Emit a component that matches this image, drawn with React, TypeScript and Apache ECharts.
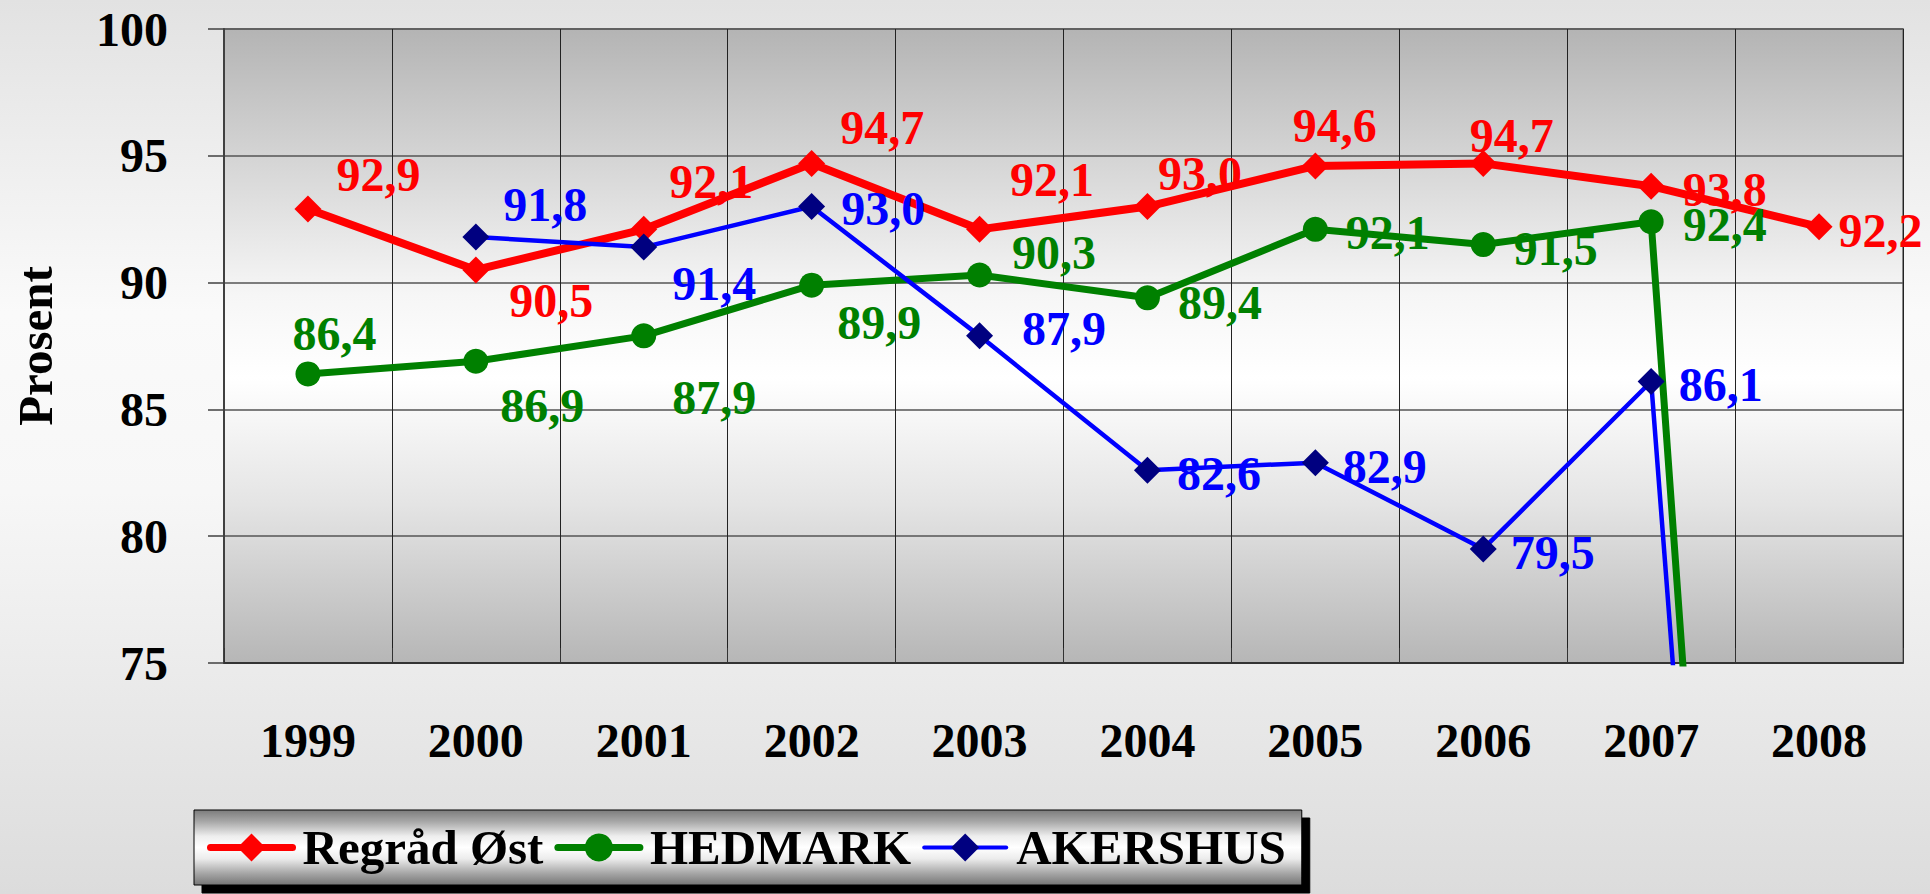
import React, { useEffect, useRef } from 'react';
import * as echarts from 'echarts';

const years = ['1999', '2000', '2001', '2002', '2003', '2004', '2005', '2006', '2007', '2008'];
const regradOst = [92.9, 90.5, 92.1, 94.7, 92.1, 93.0, 94.6, 94.7, 93.8, 92.2];
const hedmark = [86.4, 86.9, 87.9, 89.9, 90.3, 89.4, 92.1, 91.5, 92.4, 0];
const akershus: (number | null)[] = [null, 91.8, 91.4, 93.0, 87.9, 82.6, 82.9, 79.5, 86.1, 0];
const yMin = 75;
const yMax = 100;
const yStep = 5;
const seriesNames = ['Regråd Øst', 'HEDMARK', 'AKERSHUS'];

// label nudges (pixels) relative to the default "right" placement
const regradLabelOffsets = [[-2, -35], [3, 31], [-5, -48], [-2, -36], [0, -50], [-20, -33], [-53, -40], [-44, -28], [1, 3], [-11, 4]];
const hedmarkLabelOffsets = [[-45, -40], [-5, 44], [-1, 62], [-4, 37], [3, -22], [1, 5], [1, 3], [1, 4], [2, 3], [0, 0]];
const akershusLabelOffsets = [[0, 0], [-3, -32], [-2, 36], [-1, 2], [12, -7], [-1, 3], [-3, 4], [-3, 4], [-3, 3], [0, 0]];

const FONT = '"Liberation Serif", "Times New Roman", serif';

function buildData(vals: (number | null)[], offsets: number[][]) {
  return vals.map((v, i) =>
    v == null
      ? '-'
      : { value: v, label: { show: v >= yMin, offset: offsets[i] } }
  );
}

const fmt = (p: any) => Number(p.value).toFixed(1).replace('.', ',');

export default function App() {
  const ref = useRef<HTMLDivElement>(null);
  useEffect(() => {
    if (!ref.current) return;
    const chart = echarts.init(ref.current, null, { renderer: 'svg' });
    const labelBase = {
      show: true,
      position: 'right',
      distance: 17,
      fontSize: 48,
      fontWeight: 'bold',
      fontFamily: FONT,
      formatter: fmt,
    };
    chart.setOption({
      animation: false,
      backgroundColor: {
        type: 'linear', x: 0, y: 0, x2: 0, y2: 1,
        colorStops: [
          { offset: 0, color: '#e2e2e2' },
          { offset: 0.35, color: '#fafafa' },
          { offset: 0.55, color: '#f7f7f7' },
          { offset: 1, color: '#dcdcdc' },
        ],
      },
      grid: {
        left: 224, top: 29, right: 27, bottom: 231,
        show: true,
        borderColor: '#888888',
        borderWidth: 2,
        backgroundColor: {
          type: 'linear', x: 0, y: 0, x2: 0, y2: 1,
          colorStops: [
            { offset: 0, color: '#b4b4b4' },
            { offset: 0.2, color: '#d4d4d4' },
            { offset: 0.42, color: '#f6f6f6' },
            { offset: 0.55, color: '#ffffff' },
            { offset: 0.75, color: '#e4e4e4' },
            { offset: 1, color: '#b6b6b6' },
          ],
        },
      },
      legend: {
        left: 194,
        top: 810,
        orient: 'horizontal',
        padding: [13, 16, 13, 13],
        itemWidth: 82,
        itemHeight: 35,
        itemGap: 11,
        backgroundColor: {
          type: 'linear', x: 0, y: 0, x2: 0, y2: 1,
          colorStops: [
            { offset: 0, color: '#7c7c7c' },
            { offset: 0.15, color: '#a6a6a6' },
            { offset: 0.35, color: '#eeeeee' },
            { offset: 0.5, color: '#ffffff' },
            { offset: 0.65, color: '#ececec' },
            { offset: 0.85, color: '#a4a4a4' },
            { offset: 1, color: '#767676' },
          ],
        },
        borderColor: '#000000',
        borderWidth: 1,
        shadowColor: '#000000',
        shadowBlur: 0,
        shadowOffsetX: 8,
        shadowOffsetY: 8,
        textStyle: {
          fontSize: 49,
          fontWeight: 'bold',
          fontFamily: FONT,
          color: '#000000',
          padding: [0, 0, 0, 5],
        },
        data: [
          { name: seriesNames[0], lineStyle: { width: 7, cap: 'round' } },
          { name: seriesNames[1], lineStyle: { width: 7, cap: 'round' } },
          { name: seriesNames[2], lineStyle: { width: 4, cap: 'round' } },
        ],
      },
      xAxis: {
        type: 'category',
        data: years,
        boundaryGap: true,
        axisLine: { show: true, lineStyle: { color: '#333333', width: 2 } },
        axisTick: { show: true, inside: true, length: 15, lineStyle: { color: '#333333', width: 1 } },
        splitLine: { show: true, lineStyle: { color: '#222222', width: 1 } },
        axisLabel: {
          fontSize: 48, fontWeight: 'bold', fontFamily: FONT, color: '#000000', margin: 53,
        },
      },
      yAxis: {
        type: 'value',
        min: yMin,
        max: yMax,
        interval: yStep,
        name: 'Prosent',
        nameLocation: 'middle',
        nameGap: 164,
        nameTextStyle: { fontSize: 49, fontWeight: 'bold', fontFamily: FONT, color: '#000000' },
        axisLine: { show: true, lineStyle: { color: '#404040', width: 2 } },
        axisTick: { show: true, inside: false, length: 16, lineStyle: { color: '#404040', width: 1.5 } },
        splitLine: { show: true, lineStyle: { color: '#555555', width: 1.5 } },
        axisLabel: {
          fontSize: 48, fontWeight: 'bold', fontFamily: FONT, color: '#000000', margin: 56,
        },
      },
      series: [
        {
          name: seriesNames[0],
          type: 'line',
          data: buildData(regradOst, regradLabelOffsets),
          symbol: 'diamond',
          symbolSize: 27,
          clip: true,
          color: '#ff0000',
          itemStyle: { color: '#ff0000' },
          lineStyle: { color: '#ff0000', width: 8 },
          label: { ...labelBase, color: '#ff0000' },
          z: 2,
        },
        {
          name: seriesNames[1],
          type: 'line',
          data: buildData(hedmark, hedmarkLabelOffsets),
          symbol: 'circle',
          symbolSize: 25,
          clip: true,
          color: '#008000',
          itemStyle: { color: '#008000' },
          lineStyle: { color: '#008000', width: 7 },
          label: { ...labelBase, color: '#008000' },
          z: 3,
        },
        {
          name: seriesNames[2],
          type: 'line',
          data: buildData(akershus, akershusLabelOffsets),
          symbol: 'diamond',
          symbolSize: 27,
          clip: true,
          color: '#000080',
          itemStyle: { color: '#000080' },
          lineStyle: { color: '#0000ff', width: 4.5 },
          label: { ...labelBase, color: '#0000ff' },
          z: 4,
        },
      ],
    });
    return () => chart.dispose();
  }, []);
  return (
    <div
      ref={ref}
      style={{ position: 'absolute', left: 0, top: 0, width: 1930, height: 894 }}
    />
  );
}
